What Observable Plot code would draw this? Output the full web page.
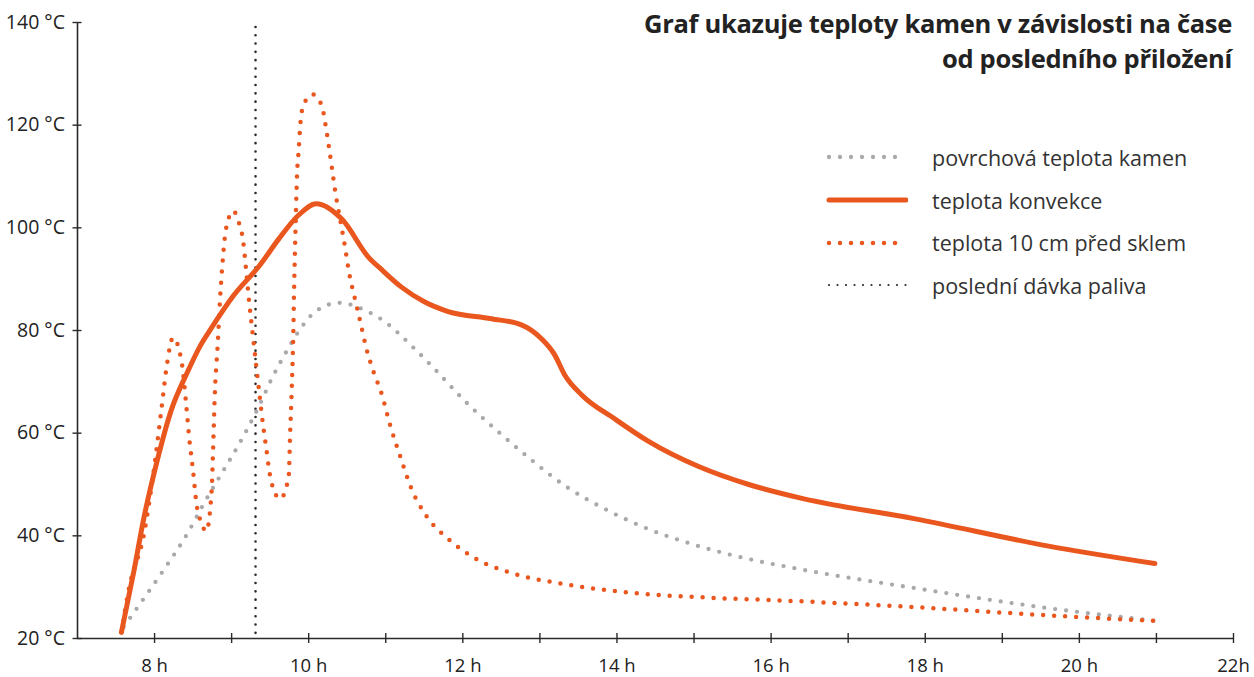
<!DOCTYPE html>
<html>
<head>
<meta charset="utf-8">
<script src="https://cdn.jsdelivr.net/npm/d3@7"></script>
<script src="https://cdn.jsdelivr.net/npm/@observablehq/plot@0.6"></script>
<style>
  html, body { margin: 0; padding: 0; background: #fff; }
  #wrap { position: relative; width: 1254px; height: 677px; font-family: "Open Sans", sans-serif; color: #262626; }
  #chart svg { overflow: visible; }
  #title { position: absolute; right: 22px; top: 6px; text-align: right; font-weight: 700; font-size: 25.5px; line-height: 35px; color: #222; letter-spacing: -0.3px; }
  #legend { position: absolute; left: 826px; top: 136px; }
  .row { display: flex; align-items: center; height: 42.7px; }
  .row svg { width: 82px; height: 12px; margin-right: 24px; }
  .row span { font-size: 21.5px; color: #333; }
</style>
</head>
<body>
<div id="wrap">
  <div id="chart"></div>
  <div id="title">Graf ukazuje teploty kamen v závislosti na čase<br>od posledního přiložení</div>
  <div id="legend"></div>
</div>
<script>
// ---- data ----
const seriesNames = ["povrchová teplota kamen", "teplota konvekce", "teplota 10 cm před sklem", "poslední dávka paliva"];

const surfaceHours = [7.6, 7.88, 8.13, 8.44, 8.64, 8.86, 9.09, 9.35, 9.53, 9.67, 9.91, 10.08, 10.4, 10.72, 10.95, 11.37, 11.64, 12.03, 12.45, 12.88, 13.33, 13.9, 14.41, 14.97, 15.53, 16.3, 17.87, 19.6, 21.0];
const surfaceTemps = [22.3, 28.2, 33.6, 40.8, 46.3, 51.9, 57.7, 65.1, 70.9, 74.8, 80.7, 83.6, 85.4, 84.0, 82.1, 76.5, 72.4, 66.2, 60.4, 54.9, 49.7, 44.8, 41.3, 38.4, 36.1, 33.7, 29.8, 25.9, 23.4];

const convHours = [7.57, 7.73, 7.86, 8.04, 8.21, 8.43, 8.6, 8.73, 9.03, 9.36, 9.61, 9.87, 10.1, 10.43, 10.78, 10.95, 11.2, 11.5, 11.81, 12.37, 12.76, 13.02, 13.19, 13.32, 13.54, 13.97, 14.41, 15.06, 15.71, 16.4, 17.87, 19.6, 20.98];
const convTemps = [21.2, 33.0, 43.4, 55.0, 64.2, 72.0, 77.2, 80.3, 86.9, 92.6, 97.8, 102.5, 104.7, 101.7, 94.2, 91.8, 88.5, 85.6, 83.7, 82.3, 81.1, 78.4, 75.3, 71.4, 67.5, 62.8, 58.4, 53.5, 50.0, 47.3, 43.3, 38.0, 34.6];

const glassHours = [7.57, 7.66, 7.87, 8.0, 8.09, 8.16, 8.24, 8.35, 8.41, 8.45, 8.5, 8.54, 8.61, 8.67, 8.74, 8.76, 8.78, 8.82, 8.85, 8.88, 8.91, 8.96, 9.02, 9.09, 9.15, 9.19, 9.23, 9.28, 9.32, 9.36, 9.41, 9.45, 9.49, 9.54, 9.63, 9.74, 9.76, 9.78, 9.8, 9.81, 9.83, 9.85, 9.87, 9.89, 9.93, 10.05, 10.17, 10.22, 10.26, 10.3, 10.34, 10.39, 10.46, 10.53, 10.6, 10.66, 10.75, 10.84, 10.95, 11.05, 11.18, 11.33, 11.53, 11.81, 12.15, 12.67, 13.32, 14.19, 15.27, 16.14, 17.87, 19.6, 21.0];
const glassTemps = [21.2, 29.2, 40.9, 53.9, 64.8, 73.3, 78.6, 74.0, 65.6, 59.0, 52.6, 46.7, 42.4, 40.9, 48.7, 57.1, 66.9, 77.5, 86.2, 92.8, 97.9, 101.8, 103.3, 101.2, 97.3, 91.5, 85.2, 78.4, 73.0, 67.7, 61.3, 57.0, 52.5, 49.2, 47.2, 51.5, 60.3, 68.6, 79.2, 87.5, 100.5, 110.8, 115.1, 119.9, 123.8, 126.0, 123.8, 119.9, 116.0, 111.8, 107.5, 103.1, 97.3, 90.8, 86.2, 82.3, 76.4, 72.0, 67.5, 61.9, 55.8, 49.3, 43.8, 39.4, 35.7, 32.6, 30.6, 28.9, 27.9, 27.4, 26.1, 24.5, 23.4];

const lastFuelHour = [9.31];

const yTicks = [20, 40, 60, 80, 100, 120, 140];
const xTicksAll = [8, 9, 10, 11, 12, 13, 14, 15, 16, 17, 18, 19, 20, 21, 22];
const xTicksLabeled = [8, 10, 12, 14, 16, 18, 20, 22];
const xTickLabels = ["8 h", "10 h", "12 h", "14 h", "16 h", "18 h", "20 h", "22h"];

// ---- styles ----
const ORANGE = "#e9571f";
const GRAY = "#a9a9ad";
const INK = "#2a2a2a";

const zip = (hs, ts) => hs.map((h, i) => ({h, t: ts[i]}));
const surface = zip(surfaceHours, surfaceTemps);
const conv = zip(convHours, convTemps);
const glass = zip(glassHours, glassTemps);

const chart = Plot.plot({
  width: 1254,
  height: 677,
  marginLeft: 77,
  marginRight: 21,
  marginTop: 22,
  marginBottom: 39,
  x: {domain: [7, 22], label: null},
  y: {domain: [20, 140], label: null},
  style: {fontFamily: "Open Sans, sans-serif", fontSize: "19px", color: "#222", background: "white"},
  marks: [
    Plot.ruleY([20], {stroke: INK, strokeWidth: 1.6}),
    Plot.ruleX([7], {stroke: INK, strokeWidth: 1.6}),
    Plot.axisY({ticks: yTicks, label: null, tickSize: 9, dx: 4.5, tickPadding: 8, tickFormat: d => `${d} °C`, stroke: INK, strokeWidth: 1.4, fontSize: 19.5}),
    Plot.axisX({ticks: xTicksAll, label: null, tickSize: 10, dy: -5, tickFormat: () => "", stroke: INK, strokeWidth: 1.4}),
    Plot.axisX({ticks: xTicksLabeled, label: null, tickSize: 0, tickPadding: 20, tickFormat: d => xTickLabels[xTicksLabeled.indexOf(d)], fontSize: 18.5}),
    Plot.ruleX(lastFuelHour, {y1: 21, y2: 140, stroke: INK, strokeWidth: 2.6, strokeDasharray: "0 8.3", strokeLinecap: "round"}),
    Plot.line(surface, {x: "h", y: "t", stroke: GRAY, strokeWidth: 4.3, strokeDasharray: "0 11", strokeLinecap: "round", curve: "monotone-x"}),
    Plot.line(conv, {x: "h", y: "t", stroke: ORANGE, strokeWidth: 5, strokeLinecap: "round", curve: "monotone-x"}),
    Plot.line(glass, {x: "h", y: "t", stroke: ORANGE, strokeWidth: 4.5, strokeDasharray: "0 11", strokeLinecap: "round", curve: "monotone-x"})
  ]
});
document.getElementById("chart").appendChild(chart);

// ---- legend ----
const swatches = [
  `<line x1="3" y1="6" x2="80" y2="6" stroke="${GRAY}" stroke-width="4.3" stroke-dasharray="0 11" stroke-linecap="round"/>`,
  `<line x1="3" y1="6" x2="80" y2="6" stroke="${ORANGE}" stroke-width="5" stroke-linecap="round"/>`,
  `<line x1="3" y1="6" x2="80" y2="6" stroke="${ORANGE}" stroke-width="4.5" stroke-dasharray="0 11" stroke-linecap="round"/>`,
  `<line x1="3" y1="6" x2="80" y2="6" stroke="${INK}" stroke-width="2.2" stroke-dasharray="0 8.5" stroke-linecap="round"/>`
];
document.getElementById("legend").innerHTML = seriesNames.map((n, i) =>
  `<div class="row"><svg viewBox="0 0 82 12">${swatches[i]}</svg><span>${n}</span></div>`).join("");
</script>
</body>
</html>
